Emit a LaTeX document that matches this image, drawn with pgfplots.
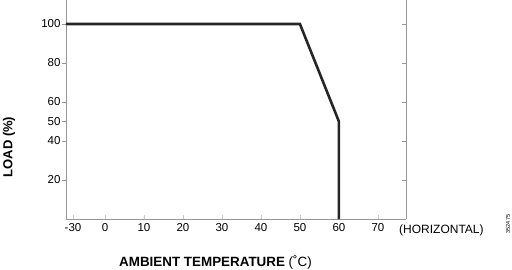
\documentclass[border=0pt]{standalone}
\usepackage{pgfplots}
\pgfplotsset{compat=1.18}
\usepackage{fontspec}
\setmainfont{Liberation Sans}
\definecolor{axgray}{RGB}{150,150,150}
\begin{document}
\begin{tikzpicture}
\path[use as bounding box] (0pt,0pt) rectangle (512pt,269pt);
\begin{axis}[
  at={(66pt,50pt)}, anchor=south west,
  scale only axis, width=340pt, height=219pt,
  xmin=-10, xmax=77.2, ymin=0, ymax=112.3,
  axis x line=bottom, axis y line=left,
  axis line style={axgray, line width=0.8pt, -},
  xtick={-8.2,0,10,20,30,40,50,60,70},
  xticklabels={-30,0,10,20,30,40,50,60,70},
  ytick={20,40,50,60,80,100},
  yticklabels={20,40,50,60,80,100},
  x tick style={axgray!50, line width=0.6pt},
  y tick style={axgray, line width=0.8pt},
  xtick align=inside, ytick align=outside,
  major tick length=4pt,
  tick label style={font=\fontsize{11.5}{12}\selectfont, black},
  xticklabel style={yshift=-1pt},
  yticklabel style={xshift=2pt},
  /pgf/number format/assume math mode=true,
  clip=false,
]
\addplot[line width=2.6pt, color=black!85, line join=miter] coordinates {(-10,100) (50,100) (60,50) (60,0)};
\end{axis}
\begin{axis}[
  at={(66pt,50pt)}, anchor=south west,
  scale only axis, width=340pt, height=219pt,
  xmin=-10, xmax=77.2, ymin=0, ymax=112.3,
  axis x line=none, axis y line=right,
  axis line style={axgray, line width=0.8pt, -},
  ytick={20,40,60,80,100}, yticklabels={},
  y tick style={axgray, line width=0.8pt},
  ytick align=inside, major tick length=4pt,
]
\end{axis}
\node[font=\fontsize{12}{13}\selectfont, anchor=west, inner sep=0pt] at (399pt,39pt) {(HORIZONTAL)};
\node[font=\fontsize{13.4}{14}\selectfont] at (215.5pt,6.5pt) {\textbf{AMBIENT TEMPERATURE} (˚C)};
\node[font=\fontsize{13}{14}\selectfont\bfseries, rotate=90] at (9pt,122pt) {LOAD (\%)};
\node[font=\fontsize{5.5}{6}\selectfont, rotate=90] at (508pt,45pt) {352475};
\end{tikzpicture}
\end{document}
